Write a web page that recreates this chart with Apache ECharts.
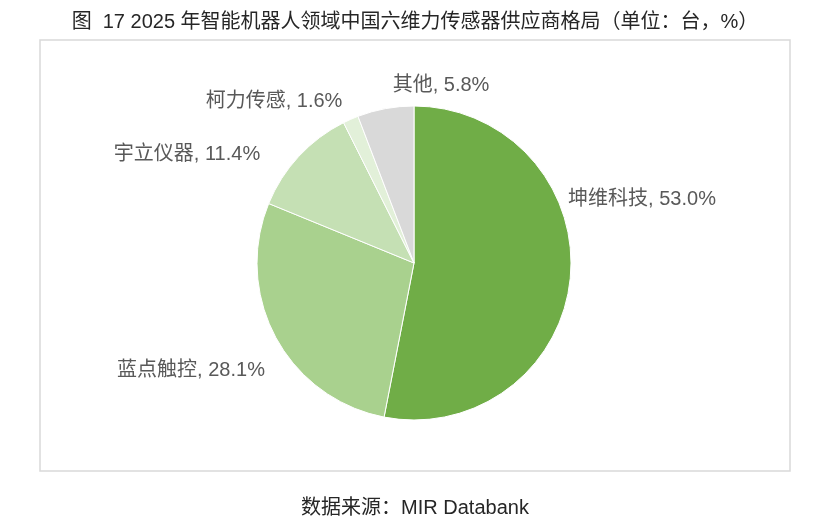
<!DOCTYPE html>
<html>
<head>
<meta charset="utf-8">
<script src="https://cdn.jsdelivr.net/npm/echarts@6/dist/echarts.min.js"></script>
<style>
html,body{margin:0;padding:0;background:#fff;}
#c{width:830px;height:527px;}
</style>
</head>
<body>
<div id="c"></div>
<script>
const categories = ["坤维科技", "蓝点触控", "宇立仪器", "柯力传感", "其他"];
const values = [53.0, 28.1, 11.4, 1.6, 5.8];
const colors = ["#70ad47", "#a9d18e", "#c5e0b4", "#e2f0d9", "#d9d9d9"];
const titleText = "图  17 2025 年智能机器人领域中国六维力传感器供应商格局（单位：台，%）";
const sourceText = "数据来源：MIR Databank";
// label anchor points (layout only)
const labelAnchors = [[642,199],[191,370],[187,154],[274,101],[441,85]];

const FONT = '"Liberation Sans", Arial, "Noto Sans CJK SC", sans-serif';
const chart = echarts.init(document.getElementById('c'), null, {renderer:'canvas'});
chart.setOption({
  animation:false,
  backgroundColor:'#fff',
  title:[{
    text:titleText, left:'center', top:7,
    textStyle:{fontFamily:FONT, fontSize:20, fontWeight:'normal', color:'#262626'}
  },{
    text:sourceText, left:'center', top:493,
    textStyle:{fontFamily:FONT, fontSize:20, fontWeight:'normal', color:'#262626'}
  }],
  graphic:[{
    type:'rect', shape:{x:40, y:40, width:750, height:431},
    style:{fill:'none', stroke:'#d9d9d9', lineWidth:1.5}, silent:true, z:-1
  }],
  series:[{
    type:'pie',
    center:[414,263],
    radius:157,
    startAngle:90,
    clockwise:true,
    data:categories.map((c,i)=>({name:c, value:values[i], itemStyle:{color:colors[i]}})),
    itemStyle:{borderColor:'#fff', borderWidth:1},
    label:{
      show:true, position:'outside',
      formatter:p=>p.name+', '+p.value.toFixed(1)+'%',
      fontFamily:FONT, fontSize:20, color:'#595959'
    },
    labelLine:{show:false},
    labelLayout:function(p){
      const a = labelAnchors[p.dataIndex];
      return {x:a[0], y:a[1], align:'center', verticalAlign:'middle'};
    },
    emphasis:{disabled:true}
  }]
});
</script>
</body>
</html>
